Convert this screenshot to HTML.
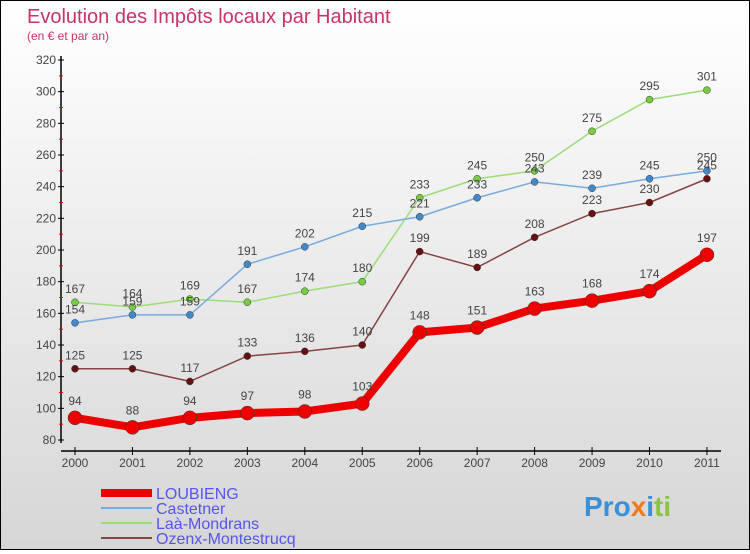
<!DOCTYPE html>
<html><head><meta charset="utf-8"><style>
body{margin:0;width:750px;height:550px;overflow:hidden;font-family:"Liberation Sans",sans-serif}
#wrap{position:relative;width:748px;height:548px;border:1px solid #000;background:linear-gradient(#ffffff,#d6d6d6)}
</style></head><body>
<div id="wrap">
<svg id="chart" width="748" height="548">
<text x="26" y="22" font-size="20" fill="#c8336a">Evolution des Impôts locaux par Habitant</text>
<text x="26" y="39" font-size="12" fill="#c8336a">(en € et par an)</text>
<g id="axes"></g><g id="series"></g><g id="legend"></g>
<text x="583" y="515" font-size="28" font-weight="bold" fill="#3b8fd6">Pro<tspan fill="#f07a1a">x</tspan><tspan fill="#3b8fd6">i</tspan><tspan fill="#8bc53f">ti</tspan></text>
</svg></div>
<script>
const years=["2000","2001","2002","2003","2004","2005","2006","2007","2008","2009","2010","2011"];
const yTicks=[80,100,120,140,160,180,200,220,240,260,280,300,320];
const loubieng=[94,88,94,97,98,103,148,151,163,168,174,197];
const castetner=[154,159,159,191,202,215,221,233,243,239,245,250];
const laa=[167,164,169,167,174,180,233,245,250,275,295,301];
const ozenx=[125,125,117,133,136,140,199,189,208,223,230,245];
const NS="http://www.w3.org/2000/svg";
const x=i=>74+i*57.45, y=v=>439-(v-80)*380/240;
function mk(t,a,p){const e=document.createElementNS(NS,t);for(const k in a)e.setAttribute(k,a[k]);p.appendChild(e);return e;}
const ax=document.getElementById('axes');
let l=mk('line',{x1:60,y1:55,x2:60,y2:442,stroke:'#000','stroke-width':1.5},ax);


l=mk('line',{x1:60,y1:450,x2:720,y2:450,stroke:'#000','stroke-width':1.5},ax);


yTicks.forEach((v,i)=>{mk('line',{x1:57,y1:y(v),x2:63,y2:y(v),stroke:'#000'},ax);
if(i<yTicks.length-1)mk('line',{x1:58,y1:y(v+10),x2:62,y2:y(v+10),stroke:'#e00'},ax);
const t=mk('text',{x:55,y:y(v)+4,'font-size':12,fill:'#444','text-anchor':'end'},ax);t.textContent=v;

});
years.forEach((yr,i)=>{mk('line',{x1:x(i),y1:446,x2:x(i),y2:454,stroke:'#000'},ax);
const t=mk('text',{x:x(i),y:466,'font-size':12,fill:'#444','text-anchor':'middle'},ax);t.textContent=yr;

});
const series=[
{name:'Laà-Mondrans',d:laa,c:'#99dd77',dot:'#77cc44',w:1.5,r:3.5},
{name:'Castetner',d:castetner,c:'#77aadd',dot:'#4488cc',w:1.5,r:3.5},
{name:'Ozenx-Montestrucq',d:ozenx,c:'#884444',dot:'#661111',w:1.5,r:3.5},
{name:'LOUBIENG',d:loubieng,c:'#ee0000',dot:'#ee0000',w:8,r:7}];
const sg=document.getElementById('series');
series.forEach(s=>{const g=mk('g',{},sg);


const p=mk('polyline',{points:s.d.map((v,i)=>x(i)+','+y(v)).join(' '),fill:'none',stroke:s.c,'stroke-width':s.w},g);


s.d.forEach((v,i)=>{const c=mk('circle',{cx:x(i),cy:y(v),r:s.r,fill:s.dot,stroke:'#333','stroke-width':0.5},g);


const t=mk('text',{x:x(i),y:y(v)-(s.r+6),'font-size':12,fill:'#444','text-anchor':'middle'},g);t.textContent=v;

});});
const lg=document.getElementById('legend');
[['LOUBIENG','#ee0000',8],['Castetner','#77aadd',2],['Laà-Mondrans','#99dd77',2],['Ozenx-Montestrucq','#884444',2]].forEach((e,i)=>{
const yy=492+i*15;const g=mk('g',{},lg);


mk('line',{x1:100,y1:yy,x2:151,y2:yy,stroke:e[1],'stroke-width':e[2]},g);
const t=mk('text',{x:155,y:yy+6,'font-size':16,fill:'#5555ee'},g);t.textContent=e[0];});
</script></body></html>
